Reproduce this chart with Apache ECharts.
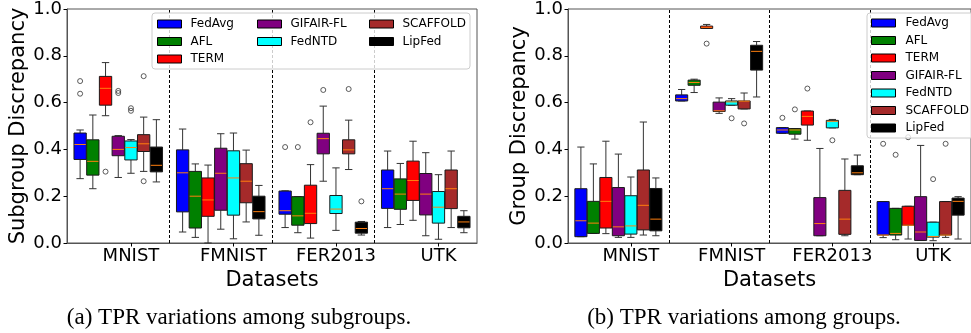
<!DOCTYPE html>
<html>
<head>
<meta charset="utf-8">
<script src="https://cdn.jsdelivr.net/npm/echarts@6/dist/echarts.min.js"></script>
<style>
  html, body { margin: 0; padding: 0; background: #fff; }
  #chart { width: 971px; height: 333px; }
</style>
</head>
<body>
<div id="chart"></div>
<script>
// categories / methods
const datasets = ['MNIST', 'FMNIST', 'FER2013', 'UTK'];
const methods = ['FedAvg', 'AFL', 'TERM', 'GIFAIR-FL', 'FedNTD', 'SCAFFOLD', 'LipFed'];
const methodColors = ['#0000ff', '#008000', '#ff0000', '#800080', '#00ffff', '#a52a2a', '#000000'];

// (a) subgroup discrepancy, per dataset: [low whisker, q1, median, q3, high whisker]
const subFedAvg   = [[0.275, 0.357, 0.421, 0.470, 0.483], [0.047, 0.133, 0.300, 0.398, 0.487], [0.066, 0.123, 0.138, 0.222, 0.223], [0.066, 0.148, 0.232, 0.312, 0.393]];
const subAFL      = [[0.232, 0.290, 0.349, 0.441, 0.547], [0.024, 0.064, 0.200, 0.306, 0.338], [0.044, 0.076, 0.116, 0.198, 0.198], [0.079, 0.144, 0.209, 0.274, 0.340]];
const subTERM     = [[0.544, 0.589, 0.661, 0.712, 0.771], [0.000, 0.114, 0.184, 0.278, 0.333], [0.021, 0.083, 0.127, 0.247, 0.335], [0.097, 0.182, 0.267, 0.350, 0.435]];
const subGIFAIR   = [[0.280, 0.373, 0.400, 0.456, 0.459], [0.059, 0.140, 0.298, 0.405, 0.467], [0.264, 0.381, 0.446, 0.469, 0.585], [0.031, 0.120, 0.209, 0.297, 0.386]];
const subFedNTD   = [[0.298, 0.355, 0.408, 0.436, 0.442], [0.018, 0.119, 0.278, 0.394, 0.470], [0.054, 0.126, 0.145, 0.203, 0.321], [0.016, 0.085, 0.153, 0.220, 0.292]];
const subSCAFFOLD = [[0.306, 0.391, 0.424, 0.463, 0.538], [0.090, 0.172, 0.264, 0.339, 0.397], [0.314, 0.381, 0.398, 0.441, 0.525], [0.066, 0.147, 0.232, 0.312, 0.393]];
const subLipFed   = [[0.261, 0.304, 0.332, 0.410, 0.527], [0.033, 0.103, 0.134, 0.200, 0.246], [0.034, 0.042, 0.062, 0.089, 0.092], [0.044, 0.065, 0.090, 0.114, 0.138]];
// outliers: [dataset index, method index, value]
const subOutliers = [
  [0, 0, 0.692], [0, 0, 0.638], [0, 2, 0.305], [0, 3, 0.650], [0, 3, 0.641],
  [0, 4, 0.576], [0, 4, 0.565], [0, 5, 0.713], [0, 5, 0.264],
  [2, 0, 0.410], [2, 1, 0.410], [2, 2, 0.516], [2, 3, 0.654], [2, 5, 0.658], [2, 6, 0.178]
];

// (b) group discrepancy
const grpFedAvg   = [[0.027, 0.027, 0.095, 0.232, 0.410], [0.607, 0.607, 0.617, 0.633, 0.656], [0.469, 0.469, 0.483, 0.493, 0.493], [0.023, 0.034, 0.034, 0.177, 0.177]];
const grpAFL      = [[0.041, 0.041, 0.085, 0.178, 0.338], [0.643, 0.674, 0.686, 0.696, 0.700], [0.444, 0.465, 0.483, 0.489, 0.489], [0.014, 0.034, 0.041, 0.148, 0.148]];
const grpTERM     = [[0.040, 0.064, 0.178, 0.280, 0.435], [0.917, 0.917, 0.922, 0.927, 0.934], [0.439, 0.504, 0.541, 0.564, 0.564], [0.017, 0.076, 0.076, 0.157, 0.157]];
const grpGIFAIR   = [[0.024, 0.031, 0.069, 0.237, 0.380], [0.554, 0.562, 0.565, 0.602, 0.620], [0.031, 0.031, 0.083, 0.194, 0.404], [0.011, 0.011, 0.047, 0.198, 0.417]];
const grpFedNTD   = [[0.024, 0.038, 0.073, 0.202, 0.282], [0.589, 0.589, 0.603, 0.607, 0.617], [0.492, 0.492, 0.520, 0.524, 0.528], [0.010, 0.025, 0.028, 0.089, 0.089]];
const grpSCAFFOLD = [[0.034, 0.056, 0.161, 0.312, 0.517], [0.573, 0.573, 0.606, 0.607, 0.641], [0.031, 0.037, 0.102, 0.225, 0.359], [0.024, 0.034, 0.034, 0.177, 0.177]];
const grpLipFed   = [[0.031, 0.052, 0.102, 0.233, 0.278], [0.624, 0.739, 0.819, 0.845, 0.861], [0.292, 0.292, 0.300, 0.330, 0.376], [0.017, 0.119, 0.178, 0.192, 0.198]];
const grpOutliers = [
  [1, 2, 0.852], [1, 4, 0.533], [1, 5, 0.511],
  [2, 0, 0.535], [2, 1, 0.571], [2, 2, 0.660], [2, 4, 0.439],
  [3, 0, 0.424], [3, 1, 0.377], [3, 2, 0.452], [3, 4, 0.273], [3, 5, 0.424]
];

const yTicks = [0, 0.2, 0.4, 0.6, 0.8, 1.0];

const subBoxes = [subFedAvg, subAFL, subTERM, subGIFAIR, subFedNTD, subSCAFFOLD, subLipFed];
const grpBoxes = [grpFedAvg, grpAFL, grpTERM, grpGIFAIR, grpFedNTD, grpSCAFFOLD, grpLipFed];

// layout of boxes inside one dataset slot (slot width = 1 on the x value axis)
const pitch = 0.124;
const boxWidth = 0.12;
const boxX = (g, k) => g + 0.5 + (k - 3) * pitch;
const labelPos = datasets.map((d, g) => boxX(g, 4));

const font = 'DejaVu Sans';
const axisColor = '#555';

function renderBox(params, api) {
  const x = api.value(0);
  const lo = api.coord([x, api.value(1)]);
  const q1 = api.coord([x, api.value(2)]);
  const md = api.coord([x, api.value(3)]);
  const q3 = api.coord([x, api.value(4)]);
  const hi = api.coord([x, api.value(5)]);
  const w = api.size([boxWidth, 0])[0];
  const cap = w * 0.3;
  const cx = lo[0];
  const line = (x1, y1, x2, y2, stroke) => ({
    type: 'line', shape: { x1, y1, x2, y2 }, style: { stroke, lineWidth: 1 }
  });
  return {
    type: 'group',
    children: [
      line(cx, hi[1], cx, q3[1], '#333'),
      line(cx, q1[1], cx, lo[1], '#333'),
      line(cx - cap, hi[1], cx + cap, hi[1], '#333'),
      line(cx - cap, lo[1], cx + cap, lo[1], '#333'),
      {
        type: 'rect',
        shape: { x: cx - w / 2, y: q3[1], width: w, height: q1[1] - q3[1] },
        style: { fill: api.visual('color'), stroke: '#1a1a1a', lineWidth: 1 }
      },
      line(cx - w / 2 + 0.5, md[1], cx + w / 2 - 0.5, md[1], '#ff7f0e')
    ]
  };
}

function boxSeries(boxes, gridIndex) {
  return methods.map((m, k) => ({
    name: m,
    type: 'custom',
    xAxisIndex: gridIndex,
    yAxisIndex: gridIndex,
    itemStyle: { color: methodColors[k] },
    encode: { x: 0, y: [1, 2, 3, 4, 5] },
    renderItem: renderBox,
    data: boxes[k].map((b, g) => [boxX(g, k)].concat(b)),
    z: 3
  }));
}

function outlierSeries(outliers, gridIndex) {
  return {
    name: 'outliers',
    type: 'scatter',
    xAxisIndex: gridIndex,
    yAxisIndex: gridIndex,
    symbol: 'circle',
    symbolSize: 5,
    itemStyle: { color: 'rgba(255,255,255,0)', borderColor: '#333', borderWidth: 1 },
    data: outliers.map(o => [boxX(o[0], o[1]), o[2]]),
    silent: true,
    z: 3,
    markLine: {
      silent: true,
      symbol: 'none',
      label: { show: false },
      lineStyle: { type: [3, 2], color: '#000', width: 1 },
      data: [{ xAxis: 1 }, { xAxis: 2 }, { xAxis: 3 }]
    }
  };
}

function xAxisFor(gridIndex) {
  return {
    gridIndex,
    type: 'value',
    min: 0,
    max: 4,
    name: 'Datasets',
    nameLocation: 'middle',
    nameGap: 23,
    nameTextStyle: { fontSize: 21, color: '#000', fontFamily: font },
    axisLine: { show: true, lineStyle: { color: axisColor, width: 1 } },
    axisTick: { show: true, customValues: labelPos, length: 3.5, lineStyle: { color: '#000' } },
    axisLabel: {
      customValues: labelPos,
      formatter: v => datasets[Math.floor(v)],
      fontSize: 18, color: '#000', fontFamily: font, margin: 4
    },
    splitLine: { show: false }
  };
}

function yAxisFor(gridIndex, title, gap) {
  return {
    gridIndex,
    type: 'value',
    min: 0,
    max: 1,
    interval: 0.2,
    name: title,
    nameLocation: 'middle',
    nameGap: gap,
    nameTextStyle: { fontSize: 21, color: '#000', fontFamily: font },
    axisLine: { show: true, lineStyle: { color: axisColor, width: 1 } },
    axisTick: { show: true, length: 3.5, lineStyle: { color: '#000' } },
    axisLabel: {
      formatter: v => (yTicks.indexOf(v) >= 0 ? v.toFixed(1) : ''),
      fontSize: 18, color: '#000', fontFamily: font, margin: 5
    },
    splitLine: { show: false }
  };
}

function legendCol(names, left, top, textPad) {
  return {
    data: names,
    orient: 'vertical',
    left, top,
    padding: 0,
    itemWidth: 24,
    itemHeight: 8,
    itemGap: 3.5,
    icon: 'rect',
    itemStyle: { borderColor: '#000', borderWidth: 1 },
    textStyle: { fontSize: 12, fontFamily: font, color: '#000', lineHeight: 14, padding: [0, 0, 0, textPad] },
    selectedMode: false,
    z: 20
  };
}

const chart = echarts.init(document.getElementById('chart'), null, { renderer: 'canvas' });

chart.setOption({
  animation: false,
  textStyle: { fontFamily: font },
  grid: [
    { left: 67, top: 7, width: 410, height: 236, show: true, borderColor: axisColor, borderWidth: 1 },
    { left: 568, top: 7, width: 410, height: 236, show: true, borderColor: axisColor, borderWidth: 1 }
  ],
  xAxis: [xAxisFor(0), xAxisFor(1)],
  yAxis: [yAxisFor(0, 'Subgroup Discrepancy', 38), yAxisFor(1, 'Group Discrepancy', 36)],
  legend: [
    legendCol(methods.slice(0, 3), 157, 17, 4),
    legendCol(methods.slice(3, 5), 257, 17, 4),
    legendCol(methods.slice(5, 7), 369, 17, 4),
    legendCol(methods, 871, 16, 5)
  ],
  graphic: [
    // legend frames
    { type: 'rect', z: 10, shape: { x: 152, y: 13, width: 318, height: 56, r: 3 },
      style: { fill: 'rgba(255,255,255,0.8)', stroke: '#cccccc', lineWidth: 1 } },
    { type: 'rect', z: 10, shape: { x: 867, y: 13, width: 120, height: 125, r: 3 },
      style: { fill: 'rgba(255,255,255,0.8)', stroke: '#cccccc', lineWidth: 1 } },
    // sub captions
    { type: 'text', x: 239, y: 318, z: 10,
      style: { text: '(a) TPR variations among subgroups.', font: "23px 'Liberation Serif'", fill: '#000', textAlign: 'center', textVerticalAlign: 'middle' } },
    { type: 'text', x: 744, y: 318, z: 10,
      style: { text: '(b) TPR variations among groups.', font: "23px 'Liberation Serif'", fill: '#000', textAlign: 'center', textVerticalAlign: 'middle' } }
  ],
  series: [
    ...boxSeries(subBoxes, 0),
    outlierSeries(subOutliers, 0),
    ...boxSeries(grpBoxes, 1),
    outlierSeries(grpOutliers, 1)
  ]
});
</script>
</body>
</html>
